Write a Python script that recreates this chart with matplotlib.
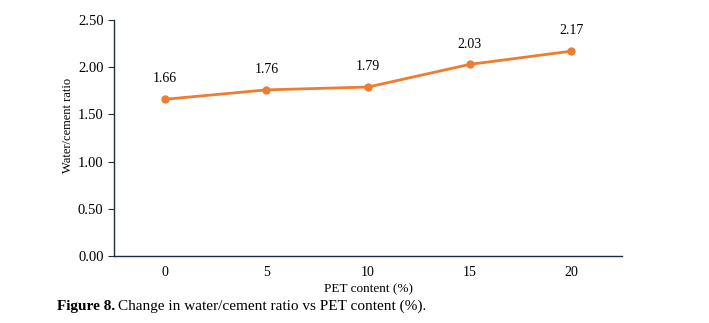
import matplotlib
matplotlib.use("Agg")
import matplotlib.pyplot as plt

pet_content = ["0", "5", "10", "15", "20"]
wc_ratio = [1.66, 1.76, 1.79, 2.03, 2.17]
y_ticks = [0.0, 0.5, 1.0, 1.5, 2.0, 2.5]

plt.rcParams["font.family"] = ["Liberation Serif", "DejaVu Serif"]

fig = plt.figure(figsize=(7.09, 3.23), dpi=100)
ax = fig.add_axes([0.1608, 0.2074, 0.7165, 0.7306])

x = list(range(len(pet_content)))
ax.plot(x, wc_ratio, color="#ED7D31", linewidth=2.0, marker="o", markersize=5)
for xi, v in zip(x, wc_ratio):
    ax.annotate(f"{v:.2f}", (xi, v), xytext=(0, 10), textcoords="offset points",
                ha="center", va="bottom", fontsize=10)

ax.set_xlim(-0.5, len(pet_content) - 0.5)
ax.set_ylim(0, 2.5)
ax.set_xticks(x)
ax.set_xticklabels(pet_content)
ax.set_yticks(y_ticks)
ax.set_yticklabels([f"{t:.2f}" for t in y_ticks])
ax.tick_params(axis="x", length=0, pad=7, labelsize=10)
ax.tick_params(axis="y", length=4, width=0.8, color="#1f2a44", labelsize=10.5)
for s in ["top", "right"]:
    ax.spines[s].set_visible(False)
for s in ["left", "bottom"]:
    ax.spines[s].set_color("#1f2a44")
    ax.spines[s].set_linewidth(1.0)

ax.set_xlabel("PET content (%)", fontsize=9.5, labelpad=3)
ax.set_ylabel("Water/cement ratio", fontsize=9)
ax.yaxis.set_label_coords(-0.0787, 0.555)

# caption: bold label followed by normal text
fig.canvas.draw()
renderer = fig.canvas.get_renderer()
bold = fig.text(57 / 709, 13 / 323, "Figure 8.", fontsize=11, fontweight="bold", va="baseline")
bb = bold.get_window_extent(renderer)
fig.text((bb.x1 + 3) / 709, 13 / 323, "Change in water/cement ratio vs PET content (%).",
         fontsize=11, va="baseline")

fig.savefig("out.png", dpi=100)
